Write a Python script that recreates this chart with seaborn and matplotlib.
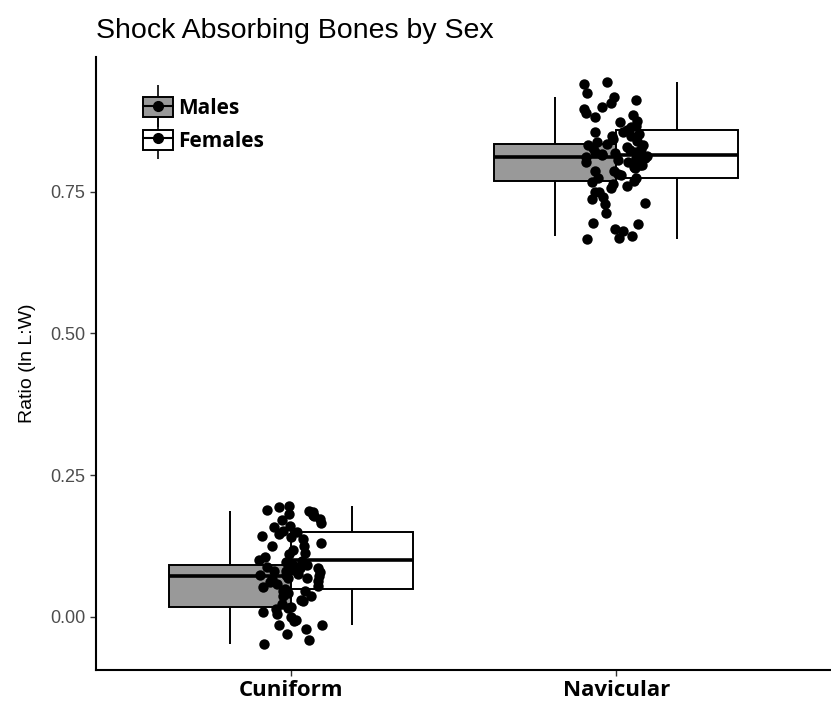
import numpy as np
import pandas as pd
import matplotlib
matplotlib.use("Agg")
import matplotlib.pyplot as plt
from matplotlib.patches import Patch
from matplotlib.lines import Line2D
from matplotlib.legend_handler import HandlerTuple
import seaborn as sns

# values (ln L:W ratio), one list per bone and sex
bones = ["Cuniform", "Navicular"]
sexes = ["Males", "Females"]

cuniform_males = [-0.048, -0.041, -0.030, -0.022, -0.015, -0.008, 0.000, 0.008, 0.013, 0.018,
                  0.028, 0.036, 0.045, 0.052, 0.058, 0.063, 0.066, 0.069, 0.072,
                  0.074, 0.076, 0.079, 0.081, 0.083, 0.086, 0.088, 0.090, 0.092,
                  0.098, 0.110, 0.125, 0.140, 0.152, 0.160, 0.170, 0.180, 0.186]
cuniform_females = [-0.014, -0.005, 0.005, 0.015, 0.022, 0.030, 0.037, 0.042, 0.046, 0.049,
                    0.055, 0.062, 0.068, 0.074, 0.080, 0.086, 0.091, 0.096, 0.101,
                    0.106, 0.112, 0.118, 0.125, 0.131, 0.137, 0.142, 0.146, 0.150,
                    0.158, 0.165, 0.172, 0.177, 0.181, 0.185, 0.189, 0.193, 0.196]
navicular_males = [0.672, 0.685, 0.695, 0.712, 0.728, 0.740, 0.750, 0.757, 0.764, 0.769,
                   0.775, 0.781, 0.787, 0.793, 0.798, 0.802, 0.806, 0.809, 0.811,
                   0.813, 0.816, 0.818, 0.821, 0.824, 0.827, 0.830, 0.832, 0.834,
                   0.840, 0.848, 0.856, 0.865, 0.875, 0.886, 0.896, 0.907, 0.917]
navicular_females = [0.666, 0.668, 0.680, 0.694, 0.730, 0.738, 0.750, 0.760, 0.768, 0.774,
                     0.780, 0.786, 0.792, 0.798, 0.803, 0.807, 0.810, 0.813, 0.815,
                     0.820, 0.826, 0.832, 0.838, 0.843, 0.848, 0.852, 0.856, 0.859,
                     0.866, 0.874, 0.882, 0.890, 0.900, 0.912, 0.925, 0.940, 0.943]

groups = {
    ("Cuniform", "Males"): cuniform_males,
    ("Cuniform", "Females"): cuniform_females,
    ("Navicular", "Males"): navicular_males,
    ("Navicular", "Females"): navicular_females,
}
rows = []
for (bone, sex), vals in groups.items():
    for v in vals:
        rows.append({"bone": bone, "sex": sex, "ratio": v})
df = pd.DataFrame(rows)

sns.set_theme(style="ticks")
plt.rcParams["font.family"] = ["Liberation Sans", "DejaVu Sans"]

fig = plt.figure(figsize=(8.31, 7.08), dpi=100)
ax = fig.add_axes([0.1155, 0.0537, 0.8845, 0.8658])

box_colors = {"Males": "#999999", "Females": "#ffffff"}
sns.boxplot(data=df, x="bone", y="ratio", hue="sex", order=bones, hue_order=sexes,
            palette=box_colors, saturation=1, width=0.75, linecolor="black",
            linewidth=1.4, showfliers=False, legend=False, ax=ax,
            capprops={"linewidth": 0},
            medianprops={"linewidth": 2.6, "color": "black"})

np.random.seed(7)
sns.stripplot(data=df, x="bone", y="ratio", order=bones, color="black",
              jitter=0.1, size=7.5, ax=ax, zorder=5)

ax.set_xlim(-0.6, 1.66)
ax.set_ylim(-0.094, 0.988)
ax.set_yticks([0.0, 0.25, 0.5, 0.75])
ax.set_yticklabels(["0.00", "0.25", "0.50", "0.75"])
ax.tick_params(axis="y", labelsize=13, labelcolor="#4d4d4d", length=4, width=1, color="#333333")
ax.tick_params(axis="x", length=4, width=1, color="#333333")
for lab in ax.get_xticklabels():
    lab.set_fontfamily(["Open Sans", "DejaVu Sans"])
    lab.set_fontweight("bold")
    lab.set_fontsize(16)
    lab.set_color("black")
ax.set_xlabel("")
ax.set_ylabel("Ratio (ln L:W)", fontsize=14, labelpad=10, color="black")
ax.set_title("Shock Absorbing Bones by Sex", loc="left", fontsize=20.5, pad=14, x=0.0,
             color="black")
sns.despine(ax=ax)
for side in ["left", "bottom"]:
    ax.spines[side].set_linewidth(1.5)
    ax.spines[side].set_color("black")

handles = []
for sex in sexes:
    handles.append((
        Line2D([], [], color="black", marker="|", markersize=30, linestyle="none", markeredgewidth=1.2),
        Patch(facecolor=box_colors[sex], edgecolor="black", linewidth=1.4),
        Line2D([], [], color="black", marker="o", markersize=7, linewidth=1.5),
    ))
ax.legend(handles, sexes, handler_map={tuple: HandlerTuple(ndivide=1, pad=0)},
          loc="upper left", bbox_to_anchor=(0.038, 0.965), frameon=False,
          prop={"family": ["Open Sans", "DejaVu Sans"], "weight": "bold", "size": 15},
          labelcolor="black",
          handlelength=1.45, handleheight=1.1, handletextpad=0.25, labelspacing=0.5)

fig.savefig("out.png", dpi=100)
